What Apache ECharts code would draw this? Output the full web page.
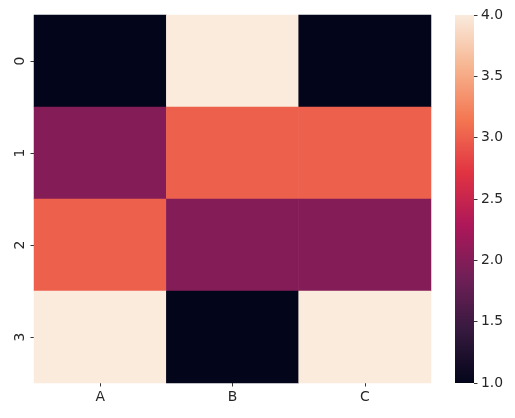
<!DOCTYPE html>
<html>
<head>
<meta charset="utf-8">
<script src="https://cdn.jsdelivr.net/npm/echarts@6/dist/echarts.min.js"></script>
<style>html,body{margin:0;padding:0;background:#fff;}#c{width:515px;height:418px;}</style>
</head>
<body>
<div id="c"></div>
<script>
const columns = ['A', 'B', 'C'];
const rows = ['0', '1', '2', '3'];
const row0 = [1, 4, 1];
const row1 = [2, 3, 3];
const row2 = [3, 2, 2];
const row3 = [4, 1, 4];
const valueMin = 1;
const valueMax = 4;
const colorbarTicks = [1.0, 1.5, 2.0, 2.5, 3.0, 3.5, 4.0];
const rocket = ['#03051A', '#35193E', '#701F57', '#AD1759', '#E13342', '#F37651', '#F6B48F', '#FAEBDD'];

const matrix = [row0, row1, row2, row3];
const data = [];
matrix.forEach((r, yi) => r.forEach((v, xi) => data.push([xi, yi, v])));

const font = 'DejaVu Sans';
const txt = '#262626';
const chart = echarts.init(document.getElementById('c'), null, {renderer: 'canvas'});
chart.setOption({
  animation: false,
  backgroundColor: '#fff',
  grid: [
    {left: 34, right: 84, top: 15, bottom: 35},
    {left: 455, width: 19, top: 15, bottom: 35}
  ],
  xAxis: [
    {type: 'category', data: columns, gridIndex: 0, position: 'bottom',
      axisLine: {show: false},
      axisTick: {show: true, length: 3.5, alignWithLabel: true, lineStyle: {color: '#000', width: 0.8}},
      axisLabel: {color: txt, fontFamily: font, fontSize: 13.9, margin: 7},
      splitLine: {show: false}},
    {type: 'category', data: ['cb'], gridIndex: 1, show: false}
  ],
  yAxis: [
    {type: 'category', data: rows, gridIndex: 0, inverse: true,
      axisLine: {show: false},
      axisTick: {show: true, length: 3.5, alignWithLabel: true, lineStyle: {color: '#000', width: 0.8}},
      axisLabel: {color: txt, fontFamily: font, fontSize: 13.9, margin: 7, rotate: 90},
      splitLine: {show: false}},
    {type: 'value', gridIndex: 1, min: valueMin, max: valueMax, interval: 0.5, position: 'right',
      axisLine: {show: false},
      axisTick: {show: true, length: 3.5, lineStyle: {color: '#000', width: 0.8}},
      axisLabel: {color: txt, fontFamily: font, fontSize: 13.9, margin: 7,
        formatter: v => colorbarTicks.includes(v) ? v.toFixed(1) : ''},
      splitLine: {show: false}}
  ],
  visualMap: {show: false, min: valueMin, max: valueMax, seriesIndex: 0, inRange: {color: rocket}},
  series: [
    {type: 'heatmap', xAxisIndex: 0, yAxisIndex: 0, data: data, itemStyle: {borderWidth: 0}},
    {type: 'bar', xAxisIndex: 1, yAxisIndex: 1, data: [valueMax], barWidth: '100%',
      itemStyle: {color: new echarts.graphic.LinearGradient(0, 1, 0, 0,
        rocket.map((c, i) => ({offset: i / (rocket.length - 1), color: c})))}}
  ]
});
</script>
</body>
</html>
